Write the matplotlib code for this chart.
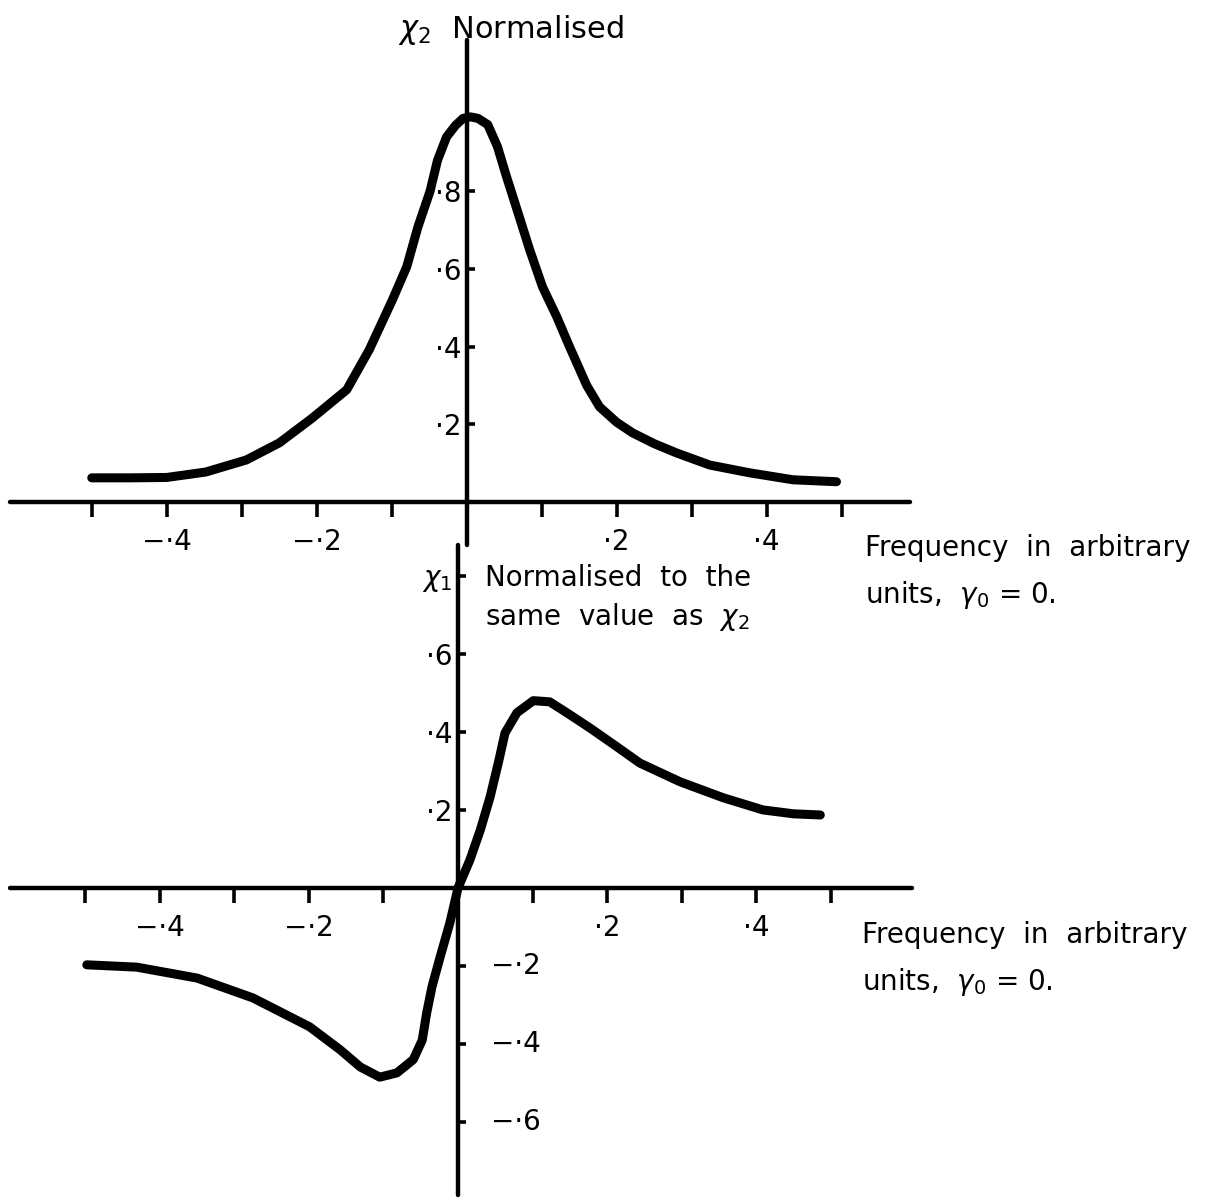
import matplotlib
matplotlib.use("Agg")
import matplotlib.pyplot as plt

# chi_2 (absorption) curve
x_chi2 = [-0.500, -0.450, -0.400, -0.348, -0.294, -0.250, -0.206, -0.160, -0.130,
          -0.099, -0.080, -0.065, -0.049, -0.039, -0.027, -0.015, -0.005, 0.005,
          0.015, 0.028, 0.041, 0.053, 0.067, 0.084, 0.101, 0.120, 0.137, 0.160,
          0.177, 0.200, 0.221, 0.250, 0.280, 0.324, 0.377, 0.435, 0.493]
y_chi2 = [0.062, 0.062, 0.063, 0.077, 0.108, 0.152, 0.216, 0.289, 0.392,
          0.521, 0.606, 0.709, 0.800, 0.880, 0.940, 0.970, 0.988, 0.992,
          0.988, 0.972, 0.915, 0.838, 0.753, 0.649, 0.554, 0.477, 0.400, 0.300,
          0.245, 0.205, 0.178, 0.150, 0.126, 0.095, 0.075, 0.057, 0.052]

# chi_1 (dispersion) curve
x_chi1 = [-0.498, -0.431, -0.350, -0.275, -0.199, -0.158, -0.131, -0.105, -0.082,
          -0.060, -0.048, -0.042, -0.035, -0.024, -0.011, 0.000, 0.016, 0.030,
          0.043, 0.054, 0.063, 0.079, 0.101, 0.123, 0.146, 0.177, 0.213, 0.244,
          0.298, 0.356, 0.409, 0.450, 0.486]
y_chi1 = [-0.197, -0.203, -0.231, -0.282, -0.356, -0.415, -0.459, -0.485, -0.474,
          -0.440, -0.390, -0.320, -0.254, -0.177, -0.090, 0.000, 0.072, 0.149,
          0.233, 0.320, 0.397, 0.449, 0.480, 0.477, 0.449, 0.410, 0.362, 0.320,
          0.272, 0.231, 0.200, 0.190, 0.187]

x_ticks = [-0.5, -0.4, -0.3, -0.2, -0.1, 0.1, 0.2, 0.3, 0.4, 0.5]
x_labels = ['', '−·4', '', '−·2', '', '', '·2', '', '·4', '']
top_yticks = [0.2, 0.4, 0.6, 0.8]
top_ylabels = ['·2', '·4', '·6', '·8']
bot_yticks = [0.2, 0.4, 0.6, 0.8]
bot_ylabels = ['·2', '·4', '·6', r'$\chi_1$']
bot_neg_ticks = [-0.2, -0.4, -0.6]
bot_neg_labels = ['−·2', '−·4', '−·6']

plt.rcParams['font.family'] = ['DejaVu Sans']
plt.rcParams['font.size'] = 20
plt.rcParams['mathtext.fontset'] = 'dejavusans'

W, H = 1223, 1202
fig = plt.figure(figsize=(W / 100, H / 100), dpi=100)


def style(ax):
    for s in ['top', 'right']:
        ax.spines[s].set_visible(False)
    for s in ['left', 'bottom']:
        ax.spines[s].set_position(('data', 0))
        ax.spines[s].set_linewidth(3.2)
        ax.spines[s].set_capstyle('round')
    ax.set_xticks(x_ticks)
    ax.set_xticklabels(x_labels)
    ax.tick_params(axis='x', direction='out', length=11, width=2.6, pad=8, labelsize=20)
    ax.tick_params(axis='y', direction='in', length=6, width=2.6, pad=4, labelsize=20)
    ax.patch.set_visible(False)


# top panel
ax1 = fig.add_axes([10 / W, 1 - 545 / H, 900 / W, 505 / H])
ax1.plot(x_chi2, y_chi2, color='black', lw=6.5, solid_capstyle='round', solid_joinstyle='round')
ax1.set_xlim(-0.609, 0.591)
ax1.set_ylim(-0.111, 1.19)
style(ax1)
ax1.set_yticks(top_yticks)
ax1.set_yticklabels(top_ylabels)

fig.text(398 / W, 1 - 30 / H, r'$\chi_2$  Normalised', ha='left', va='center', fontsize=22)
fig.text(865 / W, 1 - 548 / H, 'Frequency  in  arbitrary', ha='left', va='center', fontsize=20)
fig.text(865 / W, 1 - 595 / H, r'units,  $\gamma_0$ = 0.', ha='left', va='center', fontsize=20)

# bottom panel
ax2 = fig.add_axes([10 / W, 7 / H, 902 / W, 650 / H])
ax2.plot(x_chi1, y_chi1, color='black', lw=6.5, solid_capstyle='round', solid_joinstyle='round')
ax2.set_xlim(-0.601, 0.609)
ax2.set_ylim(-0.787, 0.879)
style(ax2)
ax2.set_yticks(bot_yticks + bot_neg_ticks)
ax2.set_yticklabels(bot_ylabels + [''] * len(bot_neg_ticks))
for v, lab in zip(bot_neg_ticks, bot_neg_labels):
    ax2.annotate(lab, xy=(0, v), xytext=(24, 0), textcoords='offset points',
                 ha='left', va='center', fontsize=20)

fig.text(485 / W, 1 - 578 / H, 'Normalised  to  the', ha='left', va='center', fontsize=20)
fig.text(485 / W, 1 - 617 / H, r'same  value  as  $\chi_2$', ha='left', va='center', fontsize=20)
fig.text(862 / W, 1 - 935 / H, 'Frequency  in  arbitrary', ha='left', va='center', fontsize=20)
fig.text(862 / W, 1 - 982 / H, r'units,  $\gamma_0$ = 0.', ha='left', va='center', fontsize=20)

fig.savefig('out.png', dpi=100, facecolor='white')
